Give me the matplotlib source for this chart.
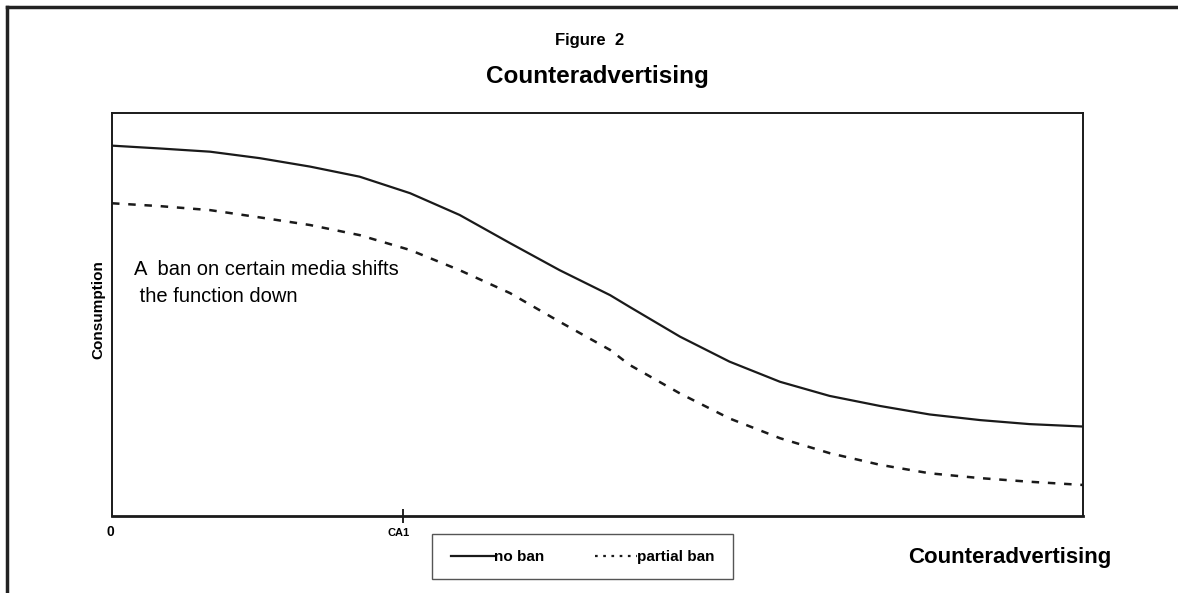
import numpy as np
import matplotlib.pyplot as plt
from matplotlib.lines import Line2D
from matplotlib.patches import Rectangle

plt.rcParams['font.family'] = ['Liberation Sans', 'DejaVu Sans']

# 곡선 데이터
x_vals = [0, 0.49, 1.01, 1.52, 2.04, 2.55, 3.07, 3.58, 4.10, 4.61, 5.13,
          5.33, 5.85, 6.36, 6.88, 7.39, 7.91, 8.42, 8.94, 9.45, 10]
no_ban = [9.19, 9.12, 9.04, 8.88, 8.67, 8.42, 8.01, 7.47, 6.77, 6.10, 5.48,
          5.19, 4.45, 3.83, 3.33, 2.98, 2.73, 2.52, 2.38, 2.28, 2.22]
partial_ban = [7.76, 7.69, 7.59, 7.41, 7.22, 6.97, 6.60, 6.10, 5.53, 4.82, 4.12,
               3.75, 3.04, 2.42, 1.93, 1.56, 1.27, 1.06, 0.94, 0.85, 0.77]

tick_pos = [0, 3.0]
tick_labels = ['0', 'CA1']
series_names = ['no ban', 'partial ban']

W, H = 1178, 593
fig = plt.figure(figsize=(W / 100, H / 100), dpi=100)
ax = fig.add_axes([112 / W, 1 - 516 / H, 971 / W, 403 / H])

ax.plot(x_vals, no_ban, color='#1a1a1a', lw=1.6, solid_joinstyle='round')
ax.plot(x_vals, partial_ban, color='#1a1a1a', lw=1.8, linestyle=(0, (3, 3.5)))

ax.set_xlim(0, 10)
ax.set_ylim(0, 10)
ax.set_yticks([])
ax.set_xticks([tick_pos[1]])
ax.set_xticklabels([])
ax.tick_params(axis='x', direction='inout', length=10, width=1.2)
for s in ax.spines.values():
    s.set_linewidth(1.4)
    s.set_color('#1a1a1a')
ax.spines['bottom'].set_linewidth(2)

# 축 라벨
fig.text(110 / W, 1 - 532 / H, tick_labels[0], ha='center', va='center', fontsize=10, fontweight='bold')
fig.text(399 / W, 1 - 533 / H, tick_labels[1], ha='center', va='center', fontsize=8, fontweight='bold')
fig.text(98 / W, 1 - 310 / H, 'Consumption', rotation=90, ha='center', va='center',
         fontsize=11, fontweight='bold')

# 주석
ax.text(0.23, 5.98, 'A  ban on certain media shifts', fontsize=14.5, va='baseline', ha='left')
ax.text(0.23, 5.31, ' the function down', fontsize=14.5, va='baseline', ha='left')

# 제목
fig.text(590 / W, 1 - 41 / H, 'Figure  2', ha='center', va='center', fontsize=12, fontweight='bold')
fig.text(597 / W, 1 - 77 / H, 'Counteradvertising', ha='center', va='center', fontsize=17.5,
         fontweight='bold')
fig.text(1010 / W, 1 - 557 / H, 'Counteradvertising', ha='center', va='center', fontsize=16,
         fontweight='bold')

# 범례
handles = [Line2D([], [], color='#1a1a1a', lw=1.6),
           Line2D([], [], color='#1a1a1a', lw=1.6, linestyle=(0, (1.2, 2.5)))]
leg = fig.legend(handles, series_names, ncol=2,
                 loc='center', bbox_to_anchor=(583 / W, 1 - 557 / H),
                 frameon=False, handlelength=2.8, handletextpad=0.0,
                 columnspacing=3.3, prop={'weight': 'bold', 'size': 11})
fig.add_artist(Rectangle((432 / W, 1 - 579 / H), 301 / W, 45 / H, transform=fig.transFigure,
                         facecolor='none', edgecolor='#555555', lw=1.0))

# 바깥 테두리
fig.add_artist(Line2D([7 / W, 1], [1 - 7 / H, 1 - 7 / H], color='#222222', lw=2.5,
                      transform=fig.transFigure))
fig.add_artist(Line2D([7 / W, 7 / W], [0, 1 - 7 / H], color='#222222', lw=2.5,
                      transform=fig.transFigure))

fig.savefig('out.png', dpi=100)
